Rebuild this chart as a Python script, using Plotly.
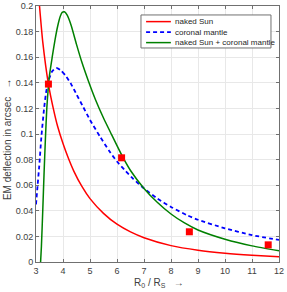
import plotly.graph_objects as go

# naked Sun
red_x = [3.0, 3.13, 3.25, 3.46, 3.64, 3.8, 4.0, 4.2, 4.4, 4.7, 5.0, 5.5, 6.0, 6.5, 7.0, 8.0, 9.0, 10.0, 11.0, 12.0]
red_y = [0.235, 0.200, 0.172, 0.139, 0.120, 0.106, 0.0925, 0.081, 0.071, 0.059, 0.0495, 0.038, 0.0295, 0.0235, 0.019, 0.0128, 0.0092, 0.0069, 0.0053, 0.0041]

# coronal mantle
blue_x = [3.0, 3.06, 3.12, 3.2, 3.3, 3.37, 3.46, 3.6, 3.75, 3.9, 4.1, 4.3, 4.5, 4.75, 5.0, 5.37, 5.72, 6.0, 6.3, 6.6, 7.0, 7.5, 8.0, 8.6, 9.0, 10.0, 11.0, 12.0]
blue_y = [0.045, 0.060, 0.075, 0.098, 0.120, 0.132, 0.1415, 0.149, 0.1517, 0.150, 0.1455, 0.139, 0.131, 0.121, 0.111, 0.098, 0.0865, 0.0785, 0.0715, 0.065, 0.0575, 0.0495, 0.043, 0.0365, 0.033, 0.0263, 0.021, 0.0172]

# naked Sun + coronal mantle
green_x = [3.17, 3.2, 3.25, 3.3, 3.35, 3.4, 3.45, 3.5, 3.6, 3.7, 3.8, 3.9, 3.97, 4.05, 4.15, 4.3, 4.5, 4.7, 4.93, 5.2, 5.5, 5.8, 6.2, 6.5, 7.0, 7.5, 8.0, 8.5, 9.0, 10.0, 11.0, 12.0]
green_y = [0.0, 0.012, 0.040, 0.070, 0.097, 0.120, 0.135, 0.146, 0.160, 0.173, 0.184, 0.192, 0.195, 0.1955, 0.193, 0.185, 0.170, 0.156, 0.142, 0.127, 0.1125, 0.0995, 0.0825, 0.0715, 0.0575, 0.0465, 0.0375, 0.0305, 0.025, 0.0178, 0.0126, 0.0088]

# measured points
pts_x = [3.46, 6.17, 8.68, 11.6]
pts_y = [0.139, 0.0814, 0.0236, 0.0134]

x_ticks = [3, 4, 5, 6, 7, 8, 9, 10, 11, 12]
y_ticks = [0, 0.02, 0.04, 0.06, 0.08, 0.1, 0.12, 0.14, 0.16, 0.18, 0.2]
y_tick_text = ["0", "0.02", "0.04", "0.06", "0.08", "0.1", "0.12", "0.14", "0.16", "0.18", "0.2"]

series_names = ["naked Sun", "coronal mantle", "naked Sun + coronal mantle"]
series_colors = ["#ff0000", "#0000ff", "#008000"]
series_dash = ["solid", "4px,3px", "solid"]
series_width = [1.5, 1.8, 1.5]

font = "Liberation Sans, Arial, sans-serif"

fig = go.Figure()
for xs, ys, name, col, dash, w in zip([red_x, blue_x, green_x], [red_y, blue_y, green_y],
                                      series_names, series_colors, series_dash, series_width):
    fig.add_trace(go.Scatter(x=xs, y=ys, mode="lines", name=name, showlegend=False,
                             line=dict(color=col, width=w, dash=dash, shape="spline", smoothing=0.6)))
fig.add_trace(go.Scatter(x=pts_x, y=pts_y, mode="markers", showlegend=False,
                         marker=dict(symbol="square", size=7, color="#ff0000")))

# legend drawn as a box with samples and labels (paper coordinates)
shapes = [dict(type="rect", xref="paper", yref="paper", x0=0.432, x1=0.967, y0=0.836, y1=0.965,
               fillcolor="white", line=dict(color="#707070", width=1), layer="above")]
annotations = []
row_y = [0.939, 0.898, 0.857]
for name, col, dash, w, yy in zip(series_names, series_colors, series_dash, series_width, row_y):
    shapes.append(dict(type="line", xref="paper", yref="paper", x0=0.453, x1=0.555, y0=yy, y1=yy,
                       line=dict(color=col, width=w, dash=dash), layer="above"))
    annotations.append(dict(text=name, xref="paper", yref="paper", x=0.562, y=yy,
                            xanchor="left", yanchor="middle", showarrow=False,
                            font=dict(size=8, color="#262626", family=font)))

annotations.append(dict(text="R<sub>0</sub> / R<sub>S</sub>   \u2192", xref="paper", yref="paper",
                        x=0.506, y=0, yshift=-21, xanchor="center", yanchor="middle",
                        showarrow=False, font=dict(size=10, color="#404040", family=font)))
annotations.append(dict(text="EM deflection in arcsec   \u2192", xref="paper", yref="paper",
                        x=0, xshift=-29, y=0.48, xanchor="center", yanchor="middle", textangle=-90,
                        showarrow=False, font=dict(size=10, color="#404040", family=font)))

fig.update_layout(
    width=287, height=292,
    margin=dict(l=36, r=8, t=6, b=30, autoexpand=False),
    plot_bgcolor="white", paper_bgcolor="white",
    font=dict(family=font, size=9, color="#404040"),
    showlegend=False,
    hovermode=False,
    shapes=shapes,
    annotations=annotations,
)
fig.update_xaxes(range=[3, 12], tickvals=x_ticks, ticks="inside", ticklen=3, automargin=False,
                 tickcolor="#707070", showline=True, linecolor="#707070", linewidth=1,
                 mirror="ticks", showgrid=True, gridcolor="#e8e8e8", zeroline=False)
fig.update_yaxes(range=[0, 0.2], tickvals=y_ticks, ticktext=y_tick_text, ticks="inside", ticklen=3,
                 automargin=False,
                 tickcolor="#707070", showline=True, linecolor="#707070", linewidth=1,
                 mirror="ticks", showgrid=True, gridcolor="#e8e8e8", zeroline=False)

fig.write_html("out.html", config={"displayModeBar": False, "staticPlot": True},
               post_script="document.body.style.margin='0';document.body.style.overflow='hidden';")
